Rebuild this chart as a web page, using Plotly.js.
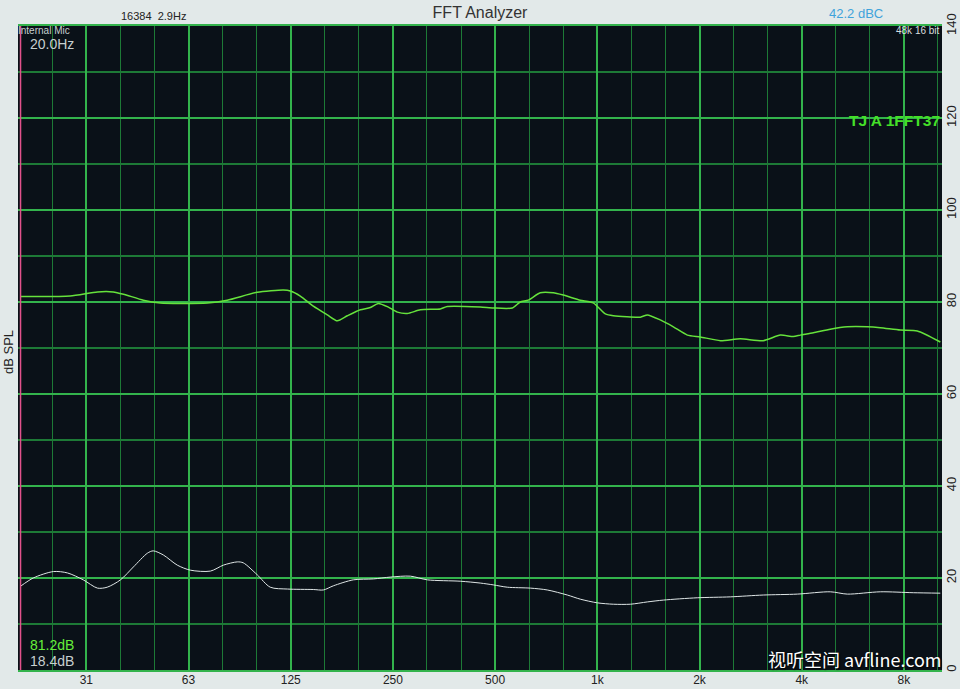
<!DOCTYPE html>
<html>
<head>
<meta charset="utf-8">
<script src="https://cdn.plot.ly/plotly-3.0.1.min.js"></script>
<style>
html,body{margin:0;padding:0;background:#e2e9e9;}
#chart{width:960px;height:689px;}
</style>
</head>
<body>
<div id="chart"></div>
<script>
// ---- Data ----
const greenFreq = [20, 28, 33.7, 37.5, 40.2, 46, 51.6, 59.1, 71, 81.3, 99.6, 118.9, 124.7, 133.4, 145.7, 160.2, 171.5, 183.5, 200.4, 214.5, 226.5, 242.3, 257.7, 275.6, 301.1, 344.8, 361.6, 452, 494, 562, 593, 626, 679, 742, 794, 891, 973, 1056, 1115, 1339, 1404, 1533, 1675, 1842, 2011, 2304, 2637, 3082, 3460, 3779, 3962, 4328, 4857, 5450, 6241, 6817, 7808, 8760, 10240];
const greenDb   = [81.2, 81.3, 82.2, 82.2, 81.7, 80.4, 79.8, 79.7, 79.8, 80.4, 82.1, 82.6, 82.4, 81.3, 79.1, 77.2, 75.9, 77.0, 78.3, 78.8, 79.7, 78.9, 77.8, 77.5, 78.3, 78.5, 79.0, 78.9, 78.7, 78.7, 80.0, 80.4, 82.0, 82.0, 81.5, 80.4, 79.8, 77.4, 77.0, 76.7, 77.2, 76.1, 74.6, 72.8, 72.4, 71.6, 72.0, 71.6, 72.8, 72.5, 72.8, 73.3, 74.1, 74.6, 74.6, 74.4, 73.9, 73.7, 71.3];

const whiteFreq = [20, 21.8, 25, 27.5, 30.6, 33.7, 36, 39.4, 43, 47.3, 49.2, 52.7, 57.9, 63.3, 72.5, 79.2, 87, 90.6, 99.6, 108.8, 122.2, 145.7, 156, 166.9, 191.1, 219, 245.6, 281.3, 315.8, 395, 452, 494, 543, 635, 712, 816, 891, 1000, 1115, 1251, 1404, 1565, 1970, 2464, 3082, 3883, 4857, 5450, 6817, 8527, 10240];
const whiteDb   = [18.2, 20.0, 21.4, 21.1, 19.6, 17.8, 18.0, 19.6, 22.4, 25.4, 25.9, 25.0, 22.8, 21.7, 21.5, 22.8, 23.5, 23.3, 20.7, 18.0, 17.6, 17.5, 17.4, 18.3, 19.6, 19.8, 20.2, 20.4, 19.6, 19.3, 18.9, 18.5, 18.0, 17.8, 17.4, 16.3, 15.4, 14.6, 14.3, 14.3, 14.8, 15.2, 15.7, 15.9, 16.3, 16.5, 17.0, 16.5, 17.0, 16.8, 16.7];

const xTickVals = [31.25, 62.5, 125, 250, 500, 1000, 2000, 4000, 8000];
const xTickText = ['31', '63', '125', '250', '500', '1k', '2k', '4k', '8k'];
const cursorHz = 20;

// third-octave minor grid positions (axis styling)
const minorVals = [];
for (let k = -17; k <= 10; k++) { if (k % 3 !== 0) minorVals.push(1000 * Math.pow(2, k / 3)); }

const FONT = 'Liberation Sans, Arial, Helvetica, sans-serif';
const majorGrid = '#33b34c';
const minorGrid = '#1d7a36';

const traces = [
  {x: greenFreq, y: greenDb, type: 'scatter', mode: 'lines',
   line: {color: '#66e23c', width: 1.5, shape: 'spline', smoothing: 0.6}, hoverinfo: 'skip'},
  {x: whiteFreq, y: whiteDb, type: 'scatter', mode: 'lines',
   line: {color: '#dfe6e6', width: 1, shape: 'spline', smoothing: 0.8}, hoverinfo: 'skip'}
];

const layout = {
  width: 960, height: 689,
  margin: {l: 18, r: 18, t: 26, b: 19, pad: 0},
  paper_bgcolor: '#e2e9e9',
  plot_bgcolor: '#0a1118',
  showlegend: false,
  font: {family: FONT, color: '#222'},
  title: {text: 'FFT Analyzer', x: 0.5, xanchor: 'center', y: 1 - 12/689, yanchor: 'middle',
          font: {family: FONT, size: 16, color: '#333'}},
  xaxis: {
    type: 'log',
    range: [Math.log10(19.66), Math.log10(10358)],
    tickmode: 'array', tickvals: xTickVals, ticktext: xTickText,
    ticks: '', tickfont: {size: 12, color: '#222', family: FONT},
    ticklabelstandoff: -2,
    showgrid: true, gridcolor: majorGrid, gridwidth: 2,
    minor: {tickmode: 'array', tickvals: minorVals, showgrid: true, gridcolor: minorGrid, gridwidth: 1, ticks: ''},
    showline: true, linecolor: majorGrid, linewidth: 2, mirror: true,
    zeroline: false, fixedrange: true
  },
  yaxis: {
    range: [0, 140], dtick: 20, tick0: 0, side: 'right',
    tickangle: -90, ticks: '', tickfont: {size: 13, color: '#222', family: FONT},
    showgrid: true, gridcolor: majorGrid, gridwidth: 2,
    minor: {dtick: 10, showgrid: true, gridcolor: minorGrid, gridwidth: 1.5, ticks: ''},
    zeroline: false, showline: false, fixedrange: true
  },
  shapes: [
    {type: 'line', xref: 'x', yref: 'paper', x0: cursorHz, x1: cursorHz, y0: 0, y1: 1,
     line: {color: '#e2528c', width: 1.5}}
  ],
  annotations: [
    {text: '16384\u00a0\u00a02.9Hz', xref: 'paper', yref: 'paper', x: (153-18)/924, y: 1 + (26-16)/644,
     xanchor: 'center', yanchor: 'middle', showarrow: false, font: {size: 11, color: '#222', family: FONT}},
    {text: '42.2 dBC', xref: 'paper', yref: 'paper', x: (856-18)/924, y: 1 + (26-13)/644,
     xanchor: 'center', yanchor: 'middle', showarrow: false, font: {size: 13, color: '#3fa3db', family: FONT}},
    {text: '48k 16 bit', xref: 'paper', yref: 'paper', x: 1, y: 1 - (30-26)/644,
     xanchor: 'right', yanchor: 'middle', showarrow: false, font: {size: 10, color: '#d8dfdf', family: FONT}},
    {text: 'Internal Mic', xref: 'paper', yref: 'paper', x: 0, y: 1 - (30-26)/644,
     xanchor: 'left', yanchor: 'middle', showarrow: false, xshift: -2, font: {size: 10, color: '#c6cfcf', family: FONT}},
    {text: '20.0Hz', xref: 'paper', yref: 'paper', x: (28-18)/924, y: 1 - (44-26)/644,
     xanchor: 'left', yanchor: 'middle', showarrow: false, font: {size: 14, color: '#c6cfcf', family: FONT}},
    {text: 'TJ A 1FFT37', xref: 'paper', yref: 'paper', x: 1, y: 1 - (120-26)/644,
     xanchor: 'right', yanchor: 'middle', showarrow: false, font: {size: 15.5, color: '#44e028', family: FONT, weight: 'bold'}},
    {text: '81.2dB', xref: 'paper', yref: 'paper', x: (28-18)/924, y: (670-645)/644,
     xanchor: 'left', yanchor: 'middle', showarrow: false, font: {size: 14, color: '#66ee3a', family: FONT}},
    {text: '18.4dB', xref: 'paper', yref: 'paper', x: (28-18)/924, y: (670-661)/644,
     xanchor: 'left', yanchor: 'middle', showarrow: false, font: {size: 14, color: '#c6cfcf', family: FONT}},
    {text: 'dB SPL', xref: 'paper', yref: 'paper', x: 0, y: (670-352)/644, xshift: -10,
     xanchor: 'center', yanchor: 'middle', textangle: -90, showarrow: false, font: {size: 13, color: '#222', family: FONT}},
    {text: '视听空间 avfline.com', xref: 'paper', yref: 'paper', x: 1, y: (670-659)/644, xshift: 2,
     xanchor: 'right', yanchor: 'middle', showarrow: false,
     font: {size: 18, color: '#ffffff', family: 'Noto Sans CJK SC, DejaVu Sans Condensed, sans-serif', shadow: '1px 1px 2px #000'}}
  ]
};

Plotly.newPlot('chart', traces, layout, {displayModeBar: false, staticPlot: true});
</script>
</body>
</html>
